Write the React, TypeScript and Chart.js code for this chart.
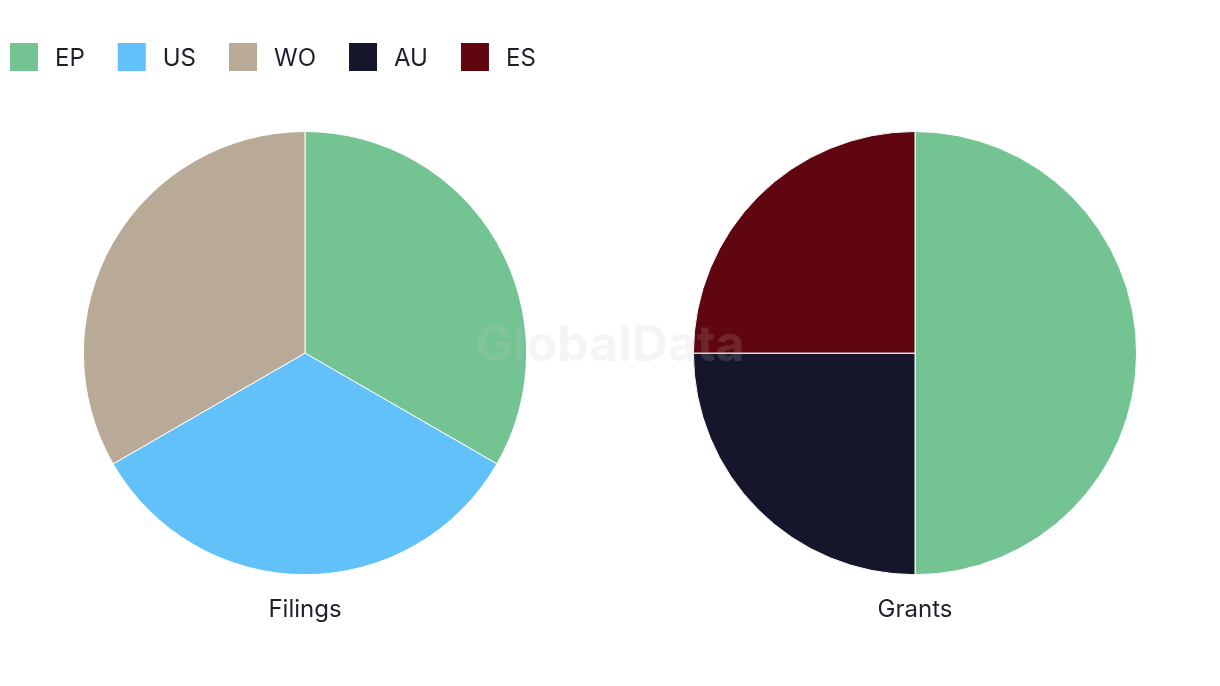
import React, { useEffect, useRef } from "react";
import { Chart, registerables } from "chart.js";

Chart.register(...registerables);

const labels = ["EP", "US", "WO", "AU", "ES"];
const colors = ["#74C493", "#62C1F9", "#B8AA97", "#15162B", "#5F0610"];
const filingsValues = [1, 1, 1, 0, 0];
const grantsValues = [2, 0, 0, 1, 1];
const chartTitles = ["Filings", "Grants"];

const FONT = "Inter, 'Noto Sans', sans-serif";
const TEXT = "#1E1E2C";

const legendPlugin = {
  id: "customLegend",
  afterDraw(chart: any) {
    const ctx = chart.ctx;
    const items: string[] = chart.data.labels;
    const bg: string[] = chart.data.datasets[0].backgroundColor;
    ctx.save();
    ctx.font = `24px ${FONT}`;
    ctx.textBaseline = "alphabetic";
    ctx.textAlign = "left";
    let x = 10;
    items.forEach((l, i) => {
      ctx.fillStyle = bg[i];
      ctx.fillRect(x, 43, 28, 28);
      ctx.fillStyle = TEXT;
      ctx.fillText(l, x + 45, 66);
      x += 45 + ctx.measureText(l).width + 33;
    });
    ctx.restore();
  },
};

function PieChart({ title, values, showLegend }: { title: string; values: number[]; showLegend: boolean }) {
  const ref = useRef<HTMLCanvasElement | null>(null);
  useEffect(() => {
    if (!ref.current) return;
    const chart = new Chart(ref.current, {
      type: "pie",
      data: {
        labels,
        datasets: [
          {
            data: values,
            backgroundColor: colors,
            borderColor: "#FFFFFF",
            borderWidth: 1,
          },
        ],
      },
      options: {
        responsive: false,
        animation: false,
        layout: { padding: { top: 131, bottom: 62, left: 0, right: 0 } },
        plugins: {
          legend: { display: false },
          tooltip: { enabled: false },
          title: {
            display: true,
            text: title,
            position: "bottom",
            color: TEXT,
            font: { size: 24, family: FONT, weight: "normal" },
            padding: { top: 20, bottom: 0 },
          },
        },
      },
      plugins: showLegend ? [legendPlugin] : [],
    } as any);
    return () => chart.destroy();
  }, []);
  return <canvas ref={ref} width={610} height={686} style={{ width: 610, height: 686, display: "block" }} />;
}

export default function App() {
  return (
    <div style={{ position: "fixed", left: 0, top: 0, width: 1220, height: 686, background: "#fff" }}>
      <div style={{ position: "absolute", left: 0, top: 0 }}>
        <PieChart title={chartTitles[0]} values={filingsValues} showLegend={true} />
      </div>
      <div style={{ position: "absolute", left: 610, top: 0 }}>
        <PieChart title={chartTitles[1]} values={grantsValues} showLegend={false} />
      </div>
      <div
        style={{
          position: "absolute",
          left: 0,
          width: 1220,
          top: 313,
          textAlign: "center",
          fontFamily: FONT,
          fontWeight: 700,
          fontSize: 50,
          lineHeight: "60px",
          color: "rgba(197,197,197,0.17)",
          pointerEvents: "none",
        }}
      >
        GlobalData
      </div>
    </div>
  );
}
